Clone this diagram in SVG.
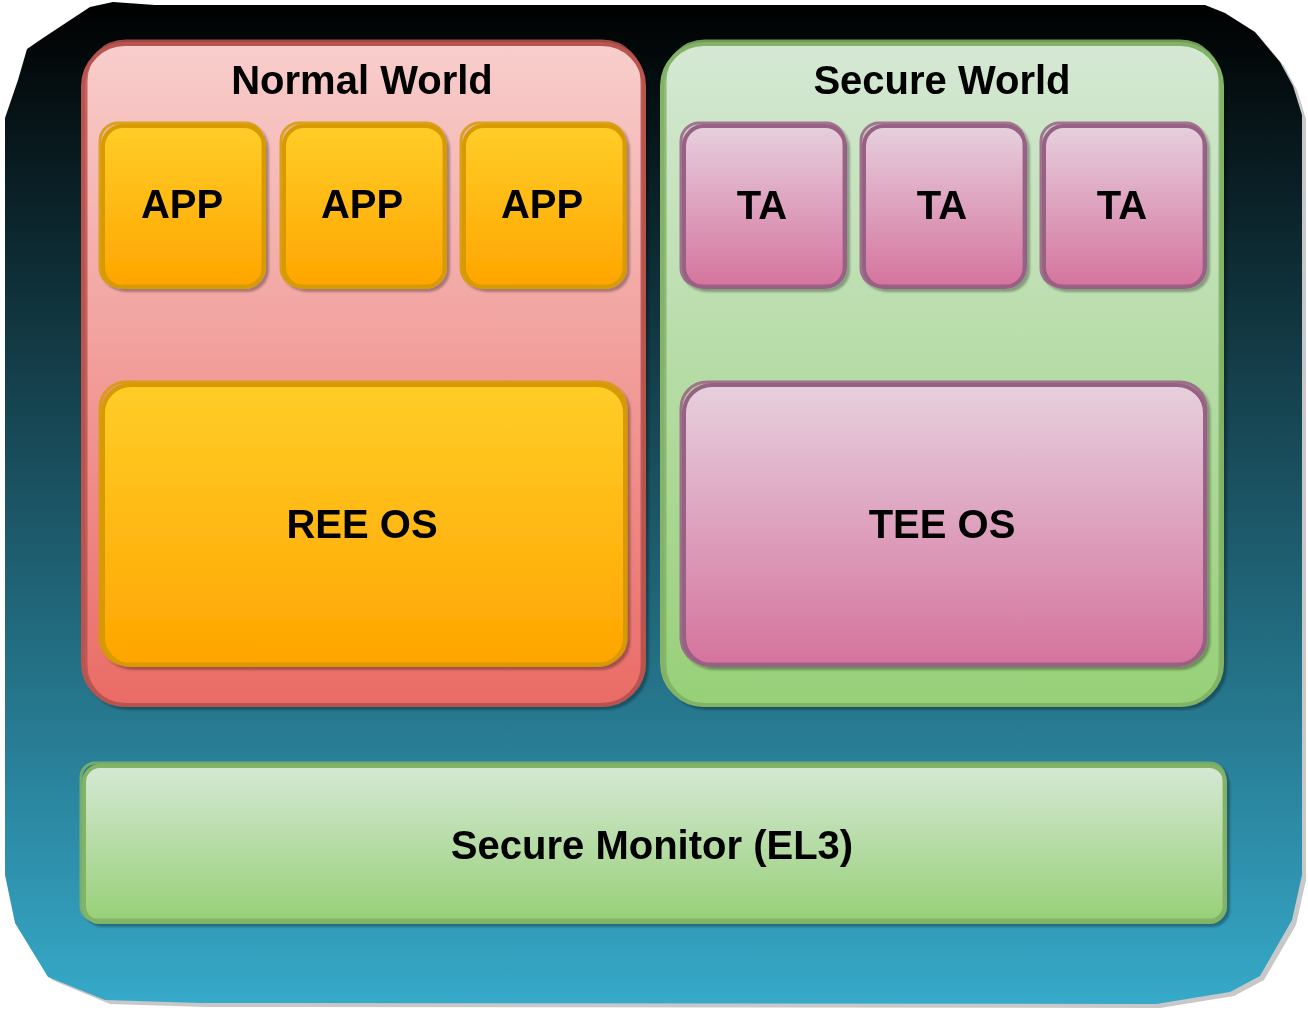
<svg xmlns="http://www.w3.org/2000/svg" width="1308" height="1010" viewBox="0 0 1308 1010">
<defs>
<linearGradient id="gOuter" x1="0" y1="0" x2="0" y2="1"><stop offset="0" stop-color="#000000"/><stop offset="1" stop-color="#36a9c9"/></linearGradient>
<linearGradient id="gRed" x1="0" y1="0" x2="0" y2="1"><stop offset="0" stop-color="#f8cecc"/><stop offset="1" stop-color="#ea6b66"/></linearGradient>
<linearGradient id="gGreen" x1="0" y1="0" x2="0" y2="1"><stop offset="0" stop-color="#d5e8d4"/><stop offset="1" stop-color="#97d077"/></linearGradient>
<linearGradient id="gOrange" x1="0" y1="0" x2="0" y2="1"><stop offset="0" stop-color="#ffcd28"/><stop offset="1" stop-color="#ffa500"/></linearGradient>
<linearGradient id="gPink" x1="0" y1="0" x2="0" y2="1"><stop offset="0" stop-color="#e6d0de"/><stop offset="1" stop-color="#d5739d"/></linearGradient>
<filter id="sh" x="-5%" y="-5%" width="110%" height="110%"><feDropShadow dx="3" dy="3" stdDeviation="1.2" flood-color="#000" flood-opacity="0.3"/></filter>
</defs>
<style>
text{font-family:"Liberation Sans",Arial,sans-serif;font-weight:bold;font-size:40px;fill:#000;text-anchor:middle}
.red{fill:url(#gRed);stroke:#b85450;stroke-width:4}
.grn{fill:url(#gGreen);stroke:#82b366;stroke-width:4}
.org{fill:url(#gOrange);stroke:#d79b00;stroke-width:4}
.pnk{fill:url(#gPink);stroke:#996185;stroke-width:4}
.sk{fill:none;stroke-width:3;opacity:0.85}
</style>
<g id="outer">
<path d="M118,8 L160,9 L1208,9 L1229,17 L1259,36 L1284,66 L1297,90 L1306,119 L1306,880 L1296,925 L1264,980 L1234,996 L1160,1008 L205,1007 L110,1004 L52,980 L18,928 L8,880 L8,122 L22,84 L30,52 L48,40 L95,10 Z" fill="#c8c8c8"/>
<path d="M113,2 L155,5 L1205,5 L1225,13 L1255,32 L1280,62 L1293,86 L1302,115 L1302,875 L1292,920 L1260,976 L1230,992 L1156,1004 L200,1003 L105,1000 L48,977 L15,923 L5,875 L5,118 L18,80 L27,49 L43,38 L90,7 Z" fill="url(#gOuter)"/>
</g>
<g id="normal-world" filter="url(#sh)">
<rect class="red" x="83" y="44" width="561" height="661" rx="42"/>
<rect class="sk" x="86" y="41" width="556" height="664" rx="40" stroke="#b85450"/>
<text x="362" y="94">Normal World</text>
</g>
<g id="secure-world" filter="url(#sh)">
<rect class="grn" x="662" y="44" width="560" height="661" rx="42"/>
<rect class="sk" x="665" y="41" width="555" height="664" rx="40" stroke="#82b366"/>
<text x="942" y="94">Secure World</text>
</g>
<g id="app1" filter="url(#sh)">
<rect class="org" x="103" y="126" width="161" height="161" rx="20"/>
<rect class="sk" x="100" y="123" width="163" height="163" rx="18" stroke="#d79b00"/>
<text x="182" y="218">APP</text>
</g>
<g id="app2" filter="url(#sh)">
<rect class="org" x="284" y="126" width="161" height="161" rx="20"/>
<rect class="sk" x="281" y="123" width="163" height="163" rx="18" stroke="#d79b00"/>
<text x="362" y="218">APP</text>
</g>
<g id="app3" filter="url(#sh)">
<rect class="org" x="464" y="126" width="161" height="161" rx="20"/>
<rect class="sk" x="461" y="123" width="163" height="163" rx="18" stroke="#d79b00"/>
<text x="542" y="218">APP</text>
</g>
<g id="ta1" filter="url(#sh)">
<rect class="pnk" x="684" y="126" width="161" height="161" rx="20"/>
<rect class="sk" x="681" y="123" width="163" height="163" rx="18" stroke="#996185"/>
<text x="762" y="219">TA</text>
</g>
<g id="ta2" filter="url(#sh)">
<rect class="pnk" x="864" y="126" width="161" height="161" rx="20"/>
<rect class="sk" x="861" y="123" width="163" height="163" rx="18" stroke="#996185"/>
<text x="942" y="219">TA</text>
</g>
<g id="ta3" filter="url(#sh)">
<rect class="pnk" x="1044" y="126" width="161" height="161" rx="20"/>
<rect class="sk" x="1041" y="123" width="163" height="163" rx="18" stroke="#996185"/>
<text x="1122" y="219">TA</text>
</g>
<g id="ree-os" filter="url(#sh)">
<rect class="org" x="103" y="385" width="522" height="280" rx="28"/>
<rect class="sk" x="100" y="382" width="526" height="282" rx="26" stroke="#d79b00"/>
<text x="362" y="538">REE OS</text>
</g>
<g id="tee-os" filter="url(#sh)">
<rect class="pnk" x="684" y="385" width="521" height="280" rx="28"/>
<rect class="sk" x="681" y="382" width="525" height="282" rx="26" stroke="#996185"/>
<text x="942" y="538">TEE OS</text>
</g>
<g id="secure-monitor" filter="url(#sh)">
<rect class="grn" x="84" y="766" width="1141" height="156" rx="16"/>
<rect class="sk" x="81" y="763" width="1143" height="157" rx="14" stroke="#82b366"/>
<text x="652" y="859">Secure Monitor (EL3)</text>
</g>
<g id="connectors"/>
</svg>
